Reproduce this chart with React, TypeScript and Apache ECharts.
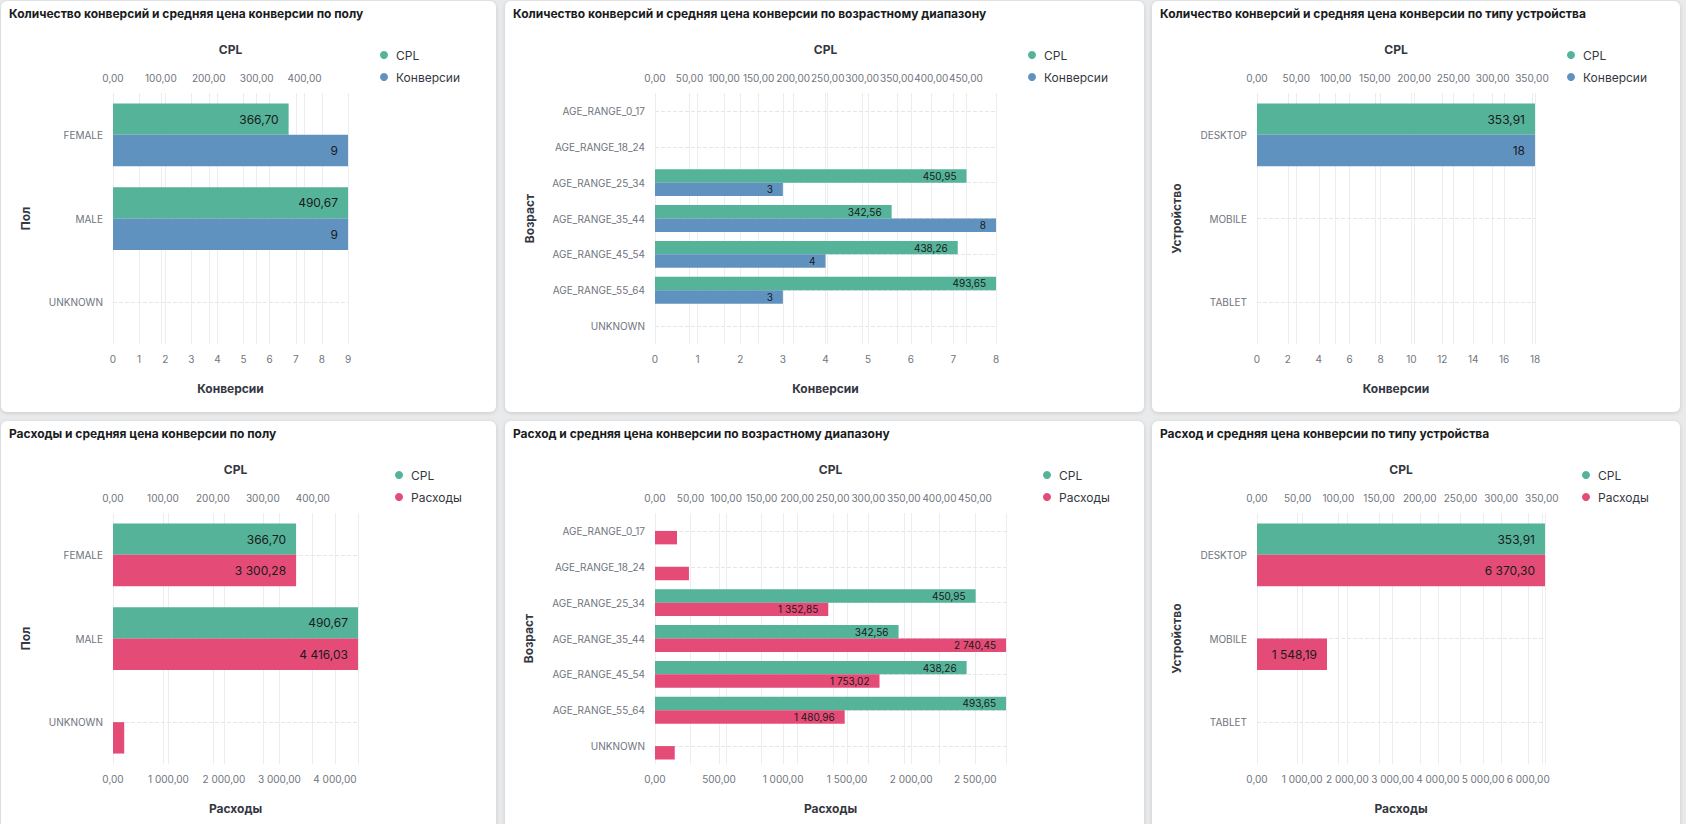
import React, { useEffect, useRef } from 'react';
import * as echarts from 'echarts';

// ---------- data ----------
const genderCategories = ['FEMALE', 'MALE', 'UNKNOWN'];
const genderCpl = [366.7, 490.67, null];
const genderConversions = [9, 9, null];
const genderSpend = [3300.28, 4416.03, 202.18];

const ageCategories = [
  'AGE_RANGE_0_17',
  'AGE_RANGE_18_24',
  'AGE_RANGE_25_34',
  'AGE_RANGE_35_44',
  'AGE_RANGE_45_54',
  'AGE_RANGE_55_64',
  'UNKNOWN',
];
const ageCpl = [null, null, 450.95, 342.56, 438.26, 493.65, null];
const ageConversions = [null, null, 3, 8, 4, 3, null];
const ageSpend = [172, 265, 1352.85, 2740.45, 1753.02, 1480.96, 154];

const deviceCategories = ['DESKTOP', 'MOBILE', 'TABLET'];
const deviceCpl = [353.91, null, null];
const deviceConversions = [18, null, null];
const deviceSpend = [6370.3, 1548.19, null];

const titles = [
  'Количество конверсий и средняя цена конверсии по полу',
  'Количество конверсий и средняя цена конверсии по возрастному диапазону',
  'Количество конверсий и средняя цена конверсии по типу устройства',
  'Расходы и средняя цена конверсии по полу',
  'Расход и средняя цена конверсии по возрастному диапазону',
  'Расход и средняя цена конверсии по типу устройства',
];

const GREEN = '#54B399';
const BLUE = '#6092C0';
const PINK = '#E44C77';
const FONT = 'Inter, "Noto Sans", "DejaVu Sans", sans-serif';

function fmtNum(v: number, digits: number): string {
  const s = Math.abs(v).toFixed(digits);
  const [i, f] = s.split('.');
  const g = i.replace(/\B(?=(\d{3})+(?!\d))/g, ' ');
  return (v < 0 ? '-' : '') + g + (f ? ',' + f : '');
}

type Panel = {
  title: string;
  categories: string[];
  cpl: (number | null)[];
  other: (number | null)[];
  otherName: string;
  otherColor: string;
  otherDigits: number;
  yName: string;
  cplStep: number;
  otherStep: number;
  box: { left: number; top: number; width: number; height: number };
  gridLeft: number;
  gridWidth: number;
  yNameGap: number;
  legendLeft: number;
  labelSize: number;
};

const panels: Panel[] = [
  {
    title: titles[0], categories: genderCategories, cpl: genderCpl, other: genderConversions,
    otherName: 'Конверсии', otherColor: BLUE, otherDigits: 0, yName: 'Пол', cplStep: 100, otherStep: 1,
    box: { left: 1, top: 1, width: 495, height: 411 }, gridLeft: 112, gridWidth: 235, yNameGap: 82, legendLeft: 379, labelSize: 12,
  },
  {
    title: titles[1], categories: ageCategories, cpl: ageCpl, other: ageConversions,
    otherName: 'Конверсии', otherColor: BLUE, otherDigits: 0, yName: 'Возраст', cplStep: 50, otherStep: 1,
    box: { left: 505, top: 1, width: 639, height: 411 }, gridLeft: 150, gridWidth: 341, yNameGap: 120, legendLeft: 523, labelSize: 10,
  },
  {
    title: titles[2], categories: deviceCategories, cpl: deviceCpl, other: deviceConversions,
    otherName: 'Конверсии', otherColor: BLUE, otherDigits: 0, yName: 'Устройство', cplStep: 50, otherStep: 2,
    box: { left: 1152, top: 1, width: 528, height: 411 }, gridLeft: 105, gridWidth: 278, yNameGap: 75, legendLeft: 415, labelSize: 12,
  },
  {
    title: titles[3], categories: genderCategories, cpl: genderCpl, other: genderSpend,
    otherName: 'Расходы', otherColor: PINK, otherDigits: 2, yName: 'Пол', cplStep: 100, otherStep: 1000,
    box: { left: 1, top: 421, width: 495, height: 411 }, gridLeft: 112, gridWidth: 245, yNameGap: 82, legendLeft: 394, labelSize: 12,
  },
  {
    title: titles[4], categories: ageCategories, cpl: ageCpl, other: ageSpend,
    otherName: 'Расходы', otherColor: PINK, otherDigits: 2, yName: 'Возраст', cplStep: 50, otherStep: 500,
    box: { left: 505, top: 421, width: 639, height: 411 }, gridLeft: 150, gridWidth: 351, yNameGap: 121, legendLeft: 538, labelSize: 10,
  },
  {
    title: titles[5], categories: deviceCategories, cpl: deviceCpl, other: deviceSpend,
    otherName: 'Расходы', otherColor: PINK, otherDigits: 2, yName: 'Устройство', cplStep: 50, otherStep: 1000,
    box: { left: 1152, top: 421, width: 528, height: 411 }, gridLeft: 105, gridWidth: 288, yNameGap: 75, legendLeft: 430, labelSize: 12,
  },
];

function maxOf(arr: (number | null)[]): number {
  return Math.max(...(arr.filter((v) => v != null) as number[]));
}

function buildOption(p: Panel): any {
  const cplMax = maxOf(p.cpl);
  const otherMax = maxOf(p.other);
  const axisNameStyle = { fontFamily: FONT, fontSize: 12, fontWeight: 'bold', color: '#343741' };
  const axisLabelStyle = { fontFamily: FONT, fontSize: 10, color: '#6f747d' };
  const splitLine = { show: true, lineStyle: { color: '#ededed', width: 1 } };
  const makeLabel = (max: number, digits: number) => ({
    show: true,
    position: 'insideRight',
    distance: 10,
    fontFamily: FONT,
    fontSize: p.labelSize,
    color: '#1a1a1a',
    formatter: (params: any) =>
      params.value == null || params.value / max < 0.15 ? '' : fmtNum(params.value, digits),
  });
  return {
    animation: false,
    textStyle: { fontFamily: FONT },
    title: {
      text: p.title,
      left: 8,
      top: 6,
      padding: 0,
      textStyle: { fontFamily: FONT, fontSize: 12, fontWeight: 'bold', color: '#1a1c21' },
    },
    legend: {
      orient: 'vertical',
      left: p.legendLeft,
      top: 46,
      padding: 0,
      itemWidth: 14,
      itemHeight: 8,
      itemGap: 6,
      icon: 'circle',
      data: ['CPL', p.otherName],
      textStyle: { fontFamily: FONT, fontSize: 12, color: '#343741', lineHeight: 16 },
    },
    grid: { left: p.gridLeft, top: 92, width: p.gridWidth, height: 251, containLabel: false },
    xAxis: [
      {
        type: 'value',
        position: 'top',
        min: 0,
        max: cplMax,
        interval: p.cplStep,
        name: 'CPL',
        nameLocation: 'middle',
        nameGap: 38,
        nameTextStyle: axisNameStyle,
        axisLine: { show: false },
        axisTick: { show: false },
        axisLabel: {
          ...axisLabelStyle,
          margin: 10,
          showMaxLabel: cplMax % p.cplStep === 0,
          formatter: (v: number) => fmtNum(v, 2),
        },
        splitLine,
      },
      {
        type: 'value',
        position: 'bottom',
        min: 0,
        max: otherMax,
        interval: p.otherStep,
        name: p.otherName,
        nameLocation: 'middle',
        nameGap: 38,
        nameTextStyle: axisNameStyle,
        axisLine: { show: false },
        axisTick: { show: false },
        axisLabel: {
          ...axisLabelStyle,
          margin: 10,
          showMaxLabel: otherMax % p.otherStep === 0,
          formatter: (v: number) => fmtNum(v, p.otherDigits),
        },
        splitLine,
      },
    ],
    yAxis: {
      type: 'category',
      inverse: true,
      data: p.categories,
      name: p.yName,
      nameLocation: 'middle',
      nameGap: p.yNameGap,
      nameTextStyle: axisNameStyle,
      axisLine: { show: false },
      axisTick: { show: false },
      axisLabel: { ...axisLabelStyle, margin: 10 },
      splitLine: { show: false },
    },
    series: [
      {
        name: 'guides',
        type: 'line',
        xAxisIndex: 0,
        yAxisIndex: 0,
        data: p.categories.map(() => null),
        showSymbol: false,
        silent: true,
        z: 1,
        lineStyle: { opacity: 0 },
        markLine: {
          silent: true,
          z: 1,
          symbol: ['none', 'none'],
          label: { show: false },
          lineStyle: { type: 'dashed', color: '#e6e6e6', width: 1 },
          data: p.categories.map((c) => ({ yAxis: c })),
        },
      },
      {
        name: 'CPL',
        type: 'bar',
        xAxisIndex: 0,
        yAxisIndex: 0,
        z: 3,
        data: p.cpl,
        barGap: '0%',
        barCategoryGap: '25%',
        itemStyle: { color: GREEN },
        label: makeLabel(cplMax, 2),
      },
      {
        name: p.otherName,
        type: 'bar',
        xAxisIndex: 1,
        yAxisIndex: 0,
        z: 3,
        data: p.other,
        barGap: '0%',
        barCategoryGap: '25%',
        itemStyle: { color: p.otherColor },
        label: makeLabel(otherMax, p.otherDigits),
      },
    ],
  };
}

function ChartCard({ panel }: { panel: Panel }) {
  const ref = useRef<HTMLDivElement>(null);
  useEffect(() => {
    if (!ref.current) return;
    const chart = echarts.init(ref.current, undefined, { renderer: 'svg' });
    chart.setOption(buildOption(panel));
    return () => chart.dispose();
  }, [panel]);
  const b = panel.box;
  return (
    <div
      style={{
        position: 'absolute',
        left: b.left,
        top: b.top,
        width: b.width,
        height: b.height,
        background: '#ffffff',
        borderRadius: 6,
        boxShadow: '0 1px 4px rgba(0,0,0,0.14)',
        overflow: 'hidden',
      }}
    >
      <div ref={ref} style={{ width: b.width, height: b.height }} />
    </div>
  );
}

export default function App() {
  return (
    <div
      style={{
        position: 'fixed',
        left: 0,
        top: 0,
        width: 1686,
        height: 824,
        background: '#e9eaec',
        overflow: 'hidden',
      }}
    >
      {panels.map((p, i) => (
        <ChartCard key={i} panel={p} />
      ))}
    </div>
  );
}
